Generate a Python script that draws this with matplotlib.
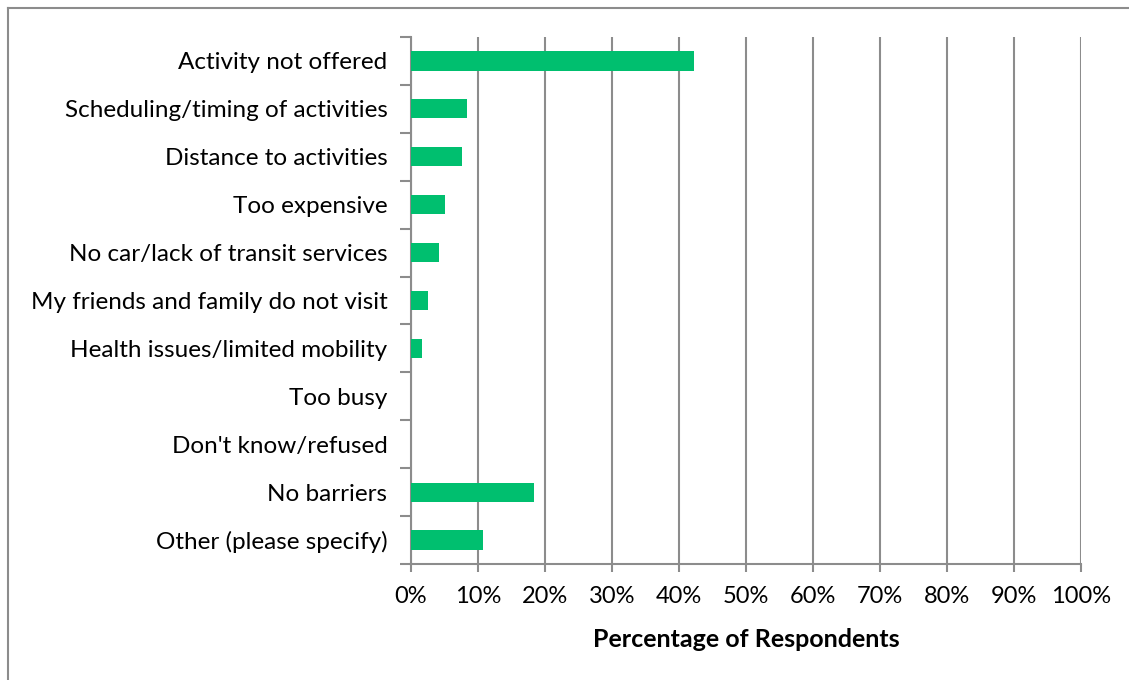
import matplotlib.pyplot as plt
from matplotlib.lines import Line2D
from matplotlib.ticker import PercentFormatter

# survey data (percent of respondents)
categories = ["Activity not offered", "Scheduling/timing of activities",
              "Distance to activities", "Too expensive",
              "No car/lack of transit services", "My friends and family do not visit",
              "Health issues/limited mobility", "Too busy", "Don't know/refused",
              "No barriers", "Other (please specify)"]
values = [42.2, 8.4, 7.6, 5.0, 4.2, 2.5, 1.7, 0.0, 0.0, 18.3, 10.8]
xticks = list(range(0, 101, 10))

plt.rcParams['font.family'] = ['Lato', 'DejaVu Sans']

W, H = 1129, 680
fig = plt.figure(figsize=(W / 100, H / 100), dpi=100)
ax = fig.add_axes([411 / W, 1 - 564 / H, 670 / W, 527 / H])

ypos = list(range(len(categories)))
ax.barh(ypos, values, height=0.4, color="#00BF6F", zorder=3)
ax.set_ylim(len(categories) - 0.5, -0.5)
ax.set_xlim(0, 100)

gray = "#8c8c8c"
ax.set_xticks(xticks)
ax.xaxis.set_major_formatter(PercentFormatter(decimals=0))
ax.grid(axis="x", color=gray, linewidth=1.5, zorder=0)
ax.set_yticks(ypos)
ax.set_yticklabels(categories, fontsize=17.5)
# tick marks sit between categories in the original
ax.set_yticks([i + 0.5 for i in range(-1, len(categories))], minor=True)
ax.tick_params(axis="y", which="major", length=0, pad=17)
ax.tick_params(axis="y", which="minor", length=8, width=1.5, color=gray)
ax.tick_params(axis="x", length=6, width=1.5, color=gray, labelsize=17, pad=10)

for s in ["top", "right"]:
    ax.spines[s].set_visible(False)
for s in ["left", "bottom"]:
    ax.spines[s].set_color(gray)
    ax.spines[s].set_linewidth(1.5)

ax.set_xlabel("Percentage of Respondents", fontsize=18, fontweight="bold", labelpad=15)

# outer chart border (cut off at right and bottom)
fig.add_artist(Line2D([7.5 / W, 7.5 / W], [0, 1 - 7.5 / H], color=gray, linewidth=1.5))
fig.add_artist(Line2D([7.5 / W, 1], [1 - 7.5 / H, 1 - 7.5 / H], color=gray, linewidth=1.5))

fig.savefig("out.png", dpi=100)
